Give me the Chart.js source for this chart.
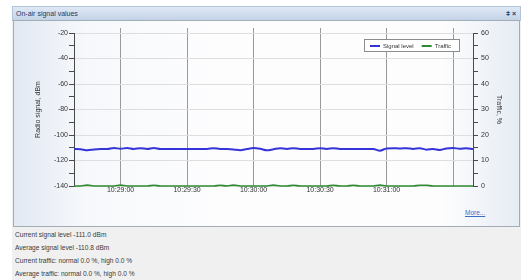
<!DOCTYPE html>
<html><head><meta charset="utf-8">
<script src="https://cdn.jsdelivr.net/npm/chart.js@4/dist/chart.umd.min.js"></script>
<style>
html,body{margin:0;padding:0;background:#fff;}
#wrap{position:relative;width:532px;height:280px;overflow:hidden;font-family:"Liberation Sans",Arial,sans-serif;}
#win{position:absolute;left:12px;top:6px;width:509px;height:274px;background:#f0f0f0;}
#titlebar{position:absolute;left:12px;top:6px;width:507px;height:13px;background:linear-gradient(#e0e9f5,#c3d3e7);border:1px solid #b3c4d9;font-size:7px;line-height:13px;color:#1f3a5f;}
#titlebar .t{position:absolute;left:3px;top:0;}
#titlebar .i{position:absolute;right:4px;top:0;font-size:7px;font-weight:bold;}
#panel{position:absolute;left:13px;top:20px;width:505px;height:205px;border:1px solid #a4acb6;background:linear-gradient(to right,#e2e9f3 0%,#f6f8fb 14%,#fdfdfe 40%,#fdfdfe 85%,#e6ecf4 100%);}
#more{position:absolute;left:465px;top:209px;font-size:6.5px;color:#3a6cc8;text-decoration:underline;}
#status{position:absolute;left:15px;top:227.5px;font-size:6.6px;line-height:13.1px;color:#3a3a3a;}
canvas{position:absolute;left:0;top:0;}
</style></head>
<body>
<div id="wrap">
<div id="win"></div>
<div id="titlebar"><span class="t">On-air signal values</span><span class="i">ǂ&nbsp;×</span></div>
<div id="panel"></div>
<div id="more">More...</div>
<div id="status">
<div>Current signal level -111.0 dBm</div>
<div>Average signal level -110.8 dBm</div>
<div>Current traffic: normal 0.0 %, high 0.0 %</div>
<div>Average traffic: normal 0.0 %, high 0.0 %</div>
</div>
<canvas id="c" width="532" height="280"></canvas>
</div>
<script>
// seconds relative to 10:29:00
const seconds = [-21,-18,-15,-12,-9,-6,-3,0,3,6,9,12,15,18,21,24,27,30,33,36,39,42,45,48,51,54,57,60,63,66,69,72,75,78,81,84,87,90,93,96,99,102,105,108,111,114,117,120,123,126,129,132,135,138,141,144,147,150,153,156,159];
const signalLevel = [-111,-111.2,-112,-111.3,-111,-111,-110.2,-110.8,-110.2,-111,-110.3,-111,-110.2,-111,-111,-111,-111,-111,-111,-111,-111,-110.3,-111,-111,-111.3,-112,-111,-110.2,-110.8,-112,-111.2,-110.3,-111,-110.3,-111,-111,-111,-110.3,-111,-110.3,-111,-111,-111,-111,-111,-111,-112.3,-110.5,-110.3,-110.6,-110.3,-111,-110.3,-111.5,-111,-111.8,-110.5,-110.2,-110.8,-110.3,-111];
const traffic = [0,0,0.35,0,0,0,0,0.35,0,0,0,0,0.3,0,0,0,0,0,0,0,0,0,0.3,0,0.35,0,0,0,0,0,0.35,0,0,0.3,0,0,0,0,0,0.3,0,0,0.3,0,0,0,0.35,0,0,0,0,0,0.3,0.3,0,0,0,0,0,0,0];
const timeTickValues = [0,30,60,90,120,150];
const timeTickLabels = ['10:29:00','10:29:30','10:30:00','10:30:30','10:31:00',''];
const signalTickLabels = [-140,-120,-100,-80,-60,-40,-20];
const trafficTickLabels = [0,10,20,30,40,50,60];
const seriesNames = ['Signal level','Traffic'];

Chart.defaults.font.family = '"Liberation Sans", Arial, sans-serif';
Chart.defaults.font.size = 7;
Chart.defaults.color = '#333';

const insideLegend = {
  id: 'insideLegend',
  afterDatasetsDraw(chart) {
    const {ctx, chartArea: a} = chart;
    const w = 96, h = 13, x = a.right - 13 - w, y = a.top + 6;
    ctx.save();
    ctx.fillStyle = '#fff';
    ctx.fillRect(x, y, w, h);
    ctx.strokeStyle = '#8c8c8c';
    ctx.lineWidth = 1;
    ctx.strokeRect(x + 0.5, y + 0.5, w - 1, h - 1);
    ctx.font = '6px "Liberation Sans", Arial, sans-serif';
    ctx.textBaseline = 'middle';
    let cx = x + 6;
    const cy = y + h / 2 + 0.5;
    chart.data.datasets.forEach(ds => {
      ctx.strokeStyle = ds.borderColor;
      ctx.lineWidth = 2;
      ctx.beginPath(); ctx.moveTo(cx, cy); ctx.lineTo(cx + 10, cy); ctx.stroke();
      ctx.fillStyle = '#333';
      ctx.fillText(ds.label, cx + 13, cy);
      cx += 13 + ctx.measureText(ds.label).width + 8;
    });
    ctx.restore();
  }
};

const setTimeTicks = s => { s.ticks = timeTickValues.map(v => ({value: v})); };

new Chart(document.getElementById('c'), {
  type: 'line',
  data: {
    datasets: [
      {label: seriesNames[0], data: seconds.map((s, i) => ({x: s, y: signalLevel[i]})), yAxisID: 'y', borderColor: '#3434d8', backgroundColor: '#3434d8', borderWidth: 2, pointRadius: 0, cubicInterpolationMode: 'monotone'},
      {label: seriesNames[1], data: seconds.map((s, i) => ({x: s, y: traffic[i]})), yAxisID: 'y2', borderColor: '#2e8b34', backgroundColor: '#2e8b34', borderWidth: 1.6, pointRadius: 0, cubicInterpolationMode: 'monotone', clip: false}
    ]
  },
  options: {
    responsive: false,
    animation: false,
    devicePixelRatio: 1,
    layout: {padding: {left: 13, right: 13, top: 28, bottom: 0}},
    plugins: {legend: {display: false}, tooltip: {enabled: false}},
    scales: {
      x: {
        type: 'linear', position: 'bottom', min: -21, max: 159,
        afterBuildTicks: setTimeTicks,
        afterFit: s => { s.height = 94; },
        ticks: {padding: 0, maxRotation: 0, autoSkip: false, color: '#333',
          callback: (v) => { const i = timeTickValues.indexOf(v); return i >= 0 ? timeTickLabels[i] : ''; }},
        grid: {color: '#9a9a9a', lineWidth: 1, drawTicks: false},
        border: {display: false}
      },
      xTop: {
        type: 'linear', position: 'top', min: -21, max: 159,
        afterBuildTicks: setTimeTicks,
        afterFit: s => { s.height = 5; },
        ticks: {display: false},
        grid: {drawOnChartArea: false, drawTicks: true, tickLength: 5, color: '#9a9a9a'},
        border: {display: false}
      },
      y: {
        position: 'left', min: -140, max: -20,
        afterFit: s => { s.width = 61; },
        ticks: {stepSize: 10, padding: 1, color: '#333',
          callback: v => signalTickLabels.includes(v) ? String(v) : ''},
        grid: {color: c => (c.tick && signalTickLabels.includes(c.tick.value)) ? '#dedede' : 'rgba(0,0,0,0)', tickColor: '#4a4a4a', tickLength: 5},
        border: {display: true, color: '#4a4a4a', width: 1},
        title: {display: true, text: 'Radio signal, dBm', color: '#333', font: {size: 7}, padding: {top: 21, bottom: 0}}
      },
      y2: {
        position: 'right', min: 0, max: 60,
        afterFit: s => { s.width = 46; },
        ticks: {stepSize: 5, padding: 3, color: '#333',
          callback: v => trafficTickLabels.includes(v) ? String(v) : ''},
        grid: {drawOnChartArea: false, tickColor: '#4a4a4a', tickLength: 5},
        border: {display: true, color: '#4a4a4a', width: 1},
        title: {display: true, text: 'Traffic, %', color: '#333', font: {size: 7}, padding: {top: 16, bottom: 0}}
      }
    }
  },
  plugins: [insideLegend]
});
</script>
</body></html>
